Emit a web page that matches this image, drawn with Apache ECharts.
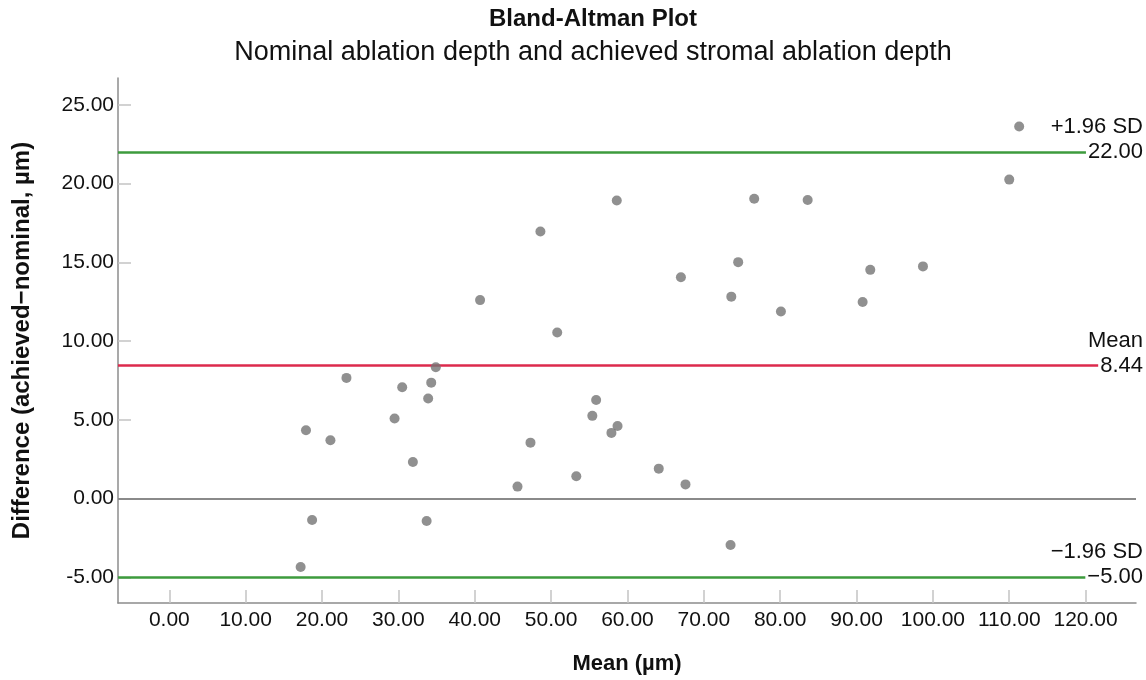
<!DOCTYPE html>
<html><head><meta charset="utf-8">
<script src="https://cdn.jsdelivr.net/npm/echarts@6/dist/echarts.min.js"></script>
<style>html,body{margin:0;padding:0;background:#fff}#c{width:1146px;height:680px}</style>
</head><body><div id="c"></div>
<script>
// Mean of the two measurements (µm)
const meanValues = [17.2, 17.9, 18.7, 21.1, 23.2, 29.5, 30.5, 31.9, 33.7, 33.9, 34.3, 34.9,
  40.7, 45.6, 47.3, 48.6, 50.8, 53.3, 55.4, 55.9, 57.9, 58.6, 58.7, 64.1, 67.0, 67.6,
  73.5, 73.6, 74.5, 76.6, 80.1, 83.6, 90.8, 91.8, 98.7, 110.0, 111.3];
// Difference achieved - nominal (µm)
const diffValues = [-4.34, 4.34, -1.36, 3.70, 7.66, 5.08, 7.07, 2.32, -1.42, 6.35, 7.36, 8.34,
  12.60, 0.76, 3.55, 16.95, 10.54, 1.42, 5.25, 6.26, 4.17, 18.92, 4.61, 1.90, 14.05, 0.90,
  -2.95, 12.82, 15.01, 19.03, 11.88, 18.95, 12.48, 14.52, 14.74, 20.25, 23.62];
const xTicks = [0, 10, 20, 30, 40, 50, 60, 70, 80, 90, 100, 110, 120];
const yTicks = [-5, 0, 5, 10, 15, 20, 25];
const refValues = [22.00, 8.44, -5.00];
const refNames = ['+1.96 SD', 'Mean', '\u22121.96 SD'];
const refLabels = ['22.00', '8.44', '\u22125.00'];
const refColors = ['#3d9b3d', '#dc2a4c', '#3d9b3d'];

const X_MIN = -6.72, X_MAX = 126.6, Y_MIN = -6.63, Y_MAX = 26.7;
const FONT = '"Liberation Sans", Arial, sans-serif';

const points = meanValues.map((m, i) => [m, diffValues[i]]);

const markData = [];
// zero line
markData.push([{ coord: [X_MIN, 0], lineStyle: { color: '#8a8a8a', width: 2 } }, { coord: [X_MAX, 0] }]);
refValues.forEach((v, i) => {
  markData.push([
    { coord: [X_MIN, v], lineStyle: { color: refColors[i], width: 2.5 },
      label: { show: true, position: 'insideEnd', formatter: refLabels[i], distance: [-7, 0],
        backgroundColor: '#fff', padding: [1, 0, 1, 2], color: '#111', fontSize: 22, fontFamily: FONT } },
    { coord: [X_MAX, v] }
  ]);
  markData.push([
    { coord: [100, v], lineStyle: { color: 'rgba(255,255,255,0)', width: 1 },
      label: { show: true, position: 'insideEndTop', formatter: refNames[i], distance: [-7, 14],
        color: '#111', fontSize: 22, fontFamily: FONT } },
    { coord: [X_MAX, v] }
  ]);
});

const chart = echarts.init(document.getElementById('c'), null, { renderer: 'canvas' });
chart.setOption({
  animation: false,
  backgroundColor: '#fff',
  title: {
    text: 'Bland-Altman Plot',
    subtext: 'Nominal ablation depth and achieved stromal ablation depth',
    left: 588, top: 2, textAlign: 'center', itemGap: 8,
    textStyle: { fontFamily: FONT, fontSize: 24, fontWeight: 'bold', color: '#111' },
    subtextStyle: { fontFamily: FONT, fontSize: 27, color: '#111' }
  },
  grid: { left: 118, right: 10, top: 78, bottom: 77, containLabel: false },
  xAxis: {
    type: 'value', min: X_MIN, max: X_MAX,
    name: 'Mean (\u00b5m)', nameLocation: 'middle', nameGap: 50,
    nameTextStyle: { fontFamily: FONT, fontSize: 22, fontWeight: 'bold', color: '#111' },
    axisLine: { show: true, onZero: false, lineStyle: { color: '#8c8c8c', width: 1.5 } },
    axisTick: { show: true, inside: true, length: 13, customValues: xTicks, lineStyle: { color: '#c4c4c4', width: 1.5 } },
    axisLabel: { customValues: xTicks, formatter: v => v.toFixed(2), fontFamily: FONT, fontSize: 21, color: '#111', margin: 7 },
    splitLine: { show: false }
  },
  yAxis: {
    type: 'value', min: Y_MIN, max: Y_MAX,
    name: 'Difference (achieved\u2212nominal, \u00b5m)', nameLocation: 'middle', nameGap: 84, nameRotate: 90,
    nameTextStyle: { fontFamily: FONT, fontSize: 24, fontWeight: 'bold', color: '#111' },
    axisLine: { show: true, onZero: false, lineStyle: { color: '#8c8c8c', width: 1.5 } },
    axisTick: { show: true, inside: true, length: 13, customValues: yTicks, lineStyle: { color: '#c4c4c4', width: 1.5 } },
    axisLabel: { customValues: yTicks, formatter: v => v.toFixed(2), fontFamily: FONT, fontSize: 21, color: '#111', margin: 4 },
    splitLine: { show: false }
  },
  series: [{
    type: 'scatter',
    data: points,
    symbolSize: 10,
    itemStyle: { color: '#747474' },
    z: 5,
    markLine: {
      silent: true, symbol: ['none', 'none'], animation: false,
      z: 3,
      label: { show: false },
      lineStyle: { type: 'solid' },
      emphasis: { disabled: true },
      data: markData
    }
  }]
});
</script>
</body></html>
